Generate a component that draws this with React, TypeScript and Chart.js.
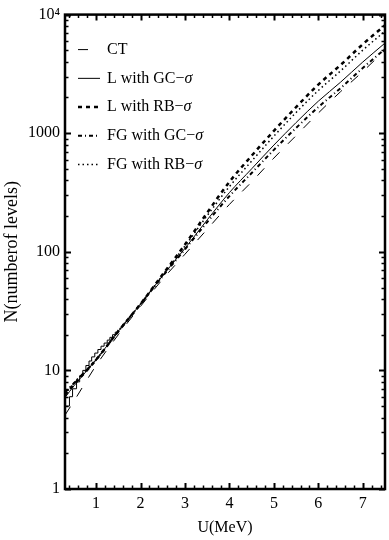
import React, { useEffect, useRef } from 'react';
import { Chart, registerables } from 'chart.js';

Chart.register(...registerables);

// Excitation energies U (MeV) at which the model curves are read
const energies = [0.3, 0.5, 1, 1.5, 2, 2.5, 3, 3.5, 4, 4.5, 5, 5.5, 6, 6.5, 7, 7.5];

// Cumulative number of levels N(U) for each model
const ctValues = [4.2, 5.5, 11.0, 20.0, 34.7, 58.9, 95.5, 155, 251, 389, 617, 955, 1479, 2239, 3311, 5012];
const lGcValues = [5.9, 7.4, 12.3, 21.4, 36.3, 63.1, 107, 186, 316, 501, 794, 1230, 1862, 2692, 3981, 5754];
const lRbValues = [6.2, 7.6, 12.3, 21.4, 36.3, 64.6, 115, 214, 389, 646, 1047, 1660, 2570, 3758, 5623, 8128];
const fgGcValues = [6.5, 7.8, 12.3, 21.4, 36.3, 62.4, 105, 178, 295, 462, 724, 1109, 1660, 2399, 3548, 5129];
const fgRbValues = [6.3, 7.8, 12.3, 21.4, 36.3, 63.8, 112, 202, 355, 582, 944, 1496, 2291, 3350, 5012, 7244];

// Experimental staircase (level energies and cumulative counts)
const expEnergies = [0.3, 0.4, 0.47, 0.56, 0.63, 0.7, 0.77, 0.84, 0.9, 0.97, 1.04, 1.11, 1.18, 1.25, 1.31, 1.37, 1.43, 1.49];
const expCounts = [5, 6, 7, 8, 9, 10, 11, 12, 13, 14, 15, 16, 17, 18, 19, 20, 21, 22];

// Axis ticks
const xTickValues = [1, 2, 3, 4, 5, 6, 7];
const yTickValues = [1, 10, 100, 1000, 10000];
const yTickLabels = ['1', '10', '100', '1000', '10\u2074'];
const seriesLabels = ['CT', 'L with GC\u2212\u03c3', 'L with RB\u2212\u03c3', 'FG with GC\u2212\u03c3', 'FG with RB\u2212\u03c3'];

const FONT = "'Liberation Serif', 'Times New Roman', serif";

const framePlugin = {
  id: 'frameTicks',
  afterDatasetsDraw(chart: any) {
    const { ctx, chartArea: a, scales } = chart;
    const x = scales.x;
    const y = scales.y;
    ctx.save();
    ctx.setLineDash([]);
    ctx.strokeStyle = '#000';
    // x ticks (minor every 0.2)
    const kStart = Math.ceil(x.min / 0.2 - 1e-9);
    const kEnd = Math.floor(x.max / 0.2 + 1e-9);
    for (let k = kStart; k <= kEnd; k++) {
      const v = k * 0.2;
      const major = Math.abs(v - Math.round(v)) < 1e-6;
      const px = Math.round(x.getPixelForValue(v)) + 0.5;
      const len = major ? 6 : 3.5;
      ctx.lineWidth = major ? 2 : 1.5;
      ctx.beginPath();
      ctx.moveTo(px, a.bottom);
      ctx.lineTo(px, a.bottom - len);
      ctx.moveTo(px, a.top);
      ctx.lineTo(px, a.top + len);
      ctx.stroke();
    }
    // y ticks
    for (let d = 0; d <= 4; d++) {
      for (let m = 1; m <= 9; m++) {
        const v = m * Math.pow(10, d);
        if (v > y.max || v < y.min) continue;
        const major = m === 1;
        const py = Math.round(y.getPixelForValue(v)) + 0.5;
        const len = major ? 6 : 3.5;
        ctx.lineWidth = major ? 2 : 1.5;
        ctx.beginPath();
        ctx.moveTo(a.left, py);
        ctx.lineTo(a.left + len, py);
        ctx.moveTo(a.right, py);
        ctx.lineTo(a.right - len, py);
        ctx.stroke();
      }
    }
    // frame
    ctx.lineWidth = 2.5;
    ctx.strokeRect(a.left, a.top, a.right - a.left, a.bottom - a.top);

    // legend
    const rowStep = 28.75;
    chart.data.datasets.forEach((ds: any) => {
      if (!ds.inLegend) return;
      const idx = ds.legendIndex;
      const ly = a.top + 35 + idx * rowStep;
      ctx.save();
      ctx.strokeStyle = '#000';
      ctx.lineWidth = ds.borderWidth;
      ctx.lineCap = ds.borderCapStyle || 'butt';
      ctx.setLineDash(ds.borderDash || []);
      ctx.beginPath();
      ctx.moveTo(a.left + 13, ly);
      ctx.lineTo(a.left + 35, ly);
      ctx.stroke();
      ctx.restore();
      const label: string = ds.label;
      const main = label.slice(0, -1);
      const sigma = label.slice(-1);
      ctx.fillStyle = '#000';
      ctx.textBaseline = 'middle';
      ctx.textAlign = 'left';
      ctx.font = `16px ${FONT}`;
      const tx = a.left + 42;
      if (sigma === '\u03c3') {
        ctx.fillText(main, tx, ly);
        const w = ctx.measureText(main).width;
        ctx.font = `italic 16px ${FONT}`;
        ctx.fillText(sigma, tx + w, ly);
      } else {
        ctx.fillText(label, tx, ly);
      }
    });
    ctx.restore();
  },
};

function toPoints(xs: number[], ys: number[]) {
  return xs.map((xv, i) => ({ x: xv, y: ys[i] }));
}

export default function App() {
  const canvasRef = useRef<HTMLCanvasElement | null>(null);

  useEffect(() => {
    document.body.style.margin = '0';
    const canvas = canvasRef.current;
    if (!canvas) return;
    const common = {
      fill: false,
      pointRadius: 0,
      borderColor: '#000',
      backgroundColor: '#000',
      cubicInterpolationMode: 'monotone' as const,
      inLegend: true,
    };
    const chart = new Chart(canvas, {
      type: 'line',
      data: {
        datasets: [
          {
            ...common,
            label: 'exp',
            data: toPoints(expEnergies, expCounts),
            borderWidth: 1,
            stepped: true,
            cubicInterpolationMode: 'default',
            inLegend: false,
          } as any,
          { ...common, label: seriesLabels[0], legendIndex: 0, data: toPoints(energies, ctValues), borderWidth: 1, borderDash: [10, 12] } as any,
          { ...common, label: seriesLabels[1], legendIndex: 1, data: toPoints(energies, lGcValues), borderWidth: 1 } as any,
          { ...common, label: seriesLabels[2], legendIndex: 2, data: toPoints(energies, lRbValues), borderWidth: 2.5, borderDash: [4, 4] } as any,
          { ...common, label: seriesLabels[3], legendIndex: 3, data: toPoints(energies, fgGcValues), borderWidth: 2, borderDash: [4, 3, 1, 3] } as any,
          { ...common, label: seriesLabels[4], legendIndex: 4, data: toPoints(energies, fgRbValues), borderWidth: 1.5, borderDash: [1.5, 3] } as any,
        ],
      },
      options: {
        animation: false,
        responsive: true,
        maintainAspectRatio: false,
        layout: { padding: { top: 11, right: 4, left: 0, bottom: 0 } },
        plugins: { legend: { display: false }, tooltip: { enabled: false } },
        elements: { line: { tension: 0 } },
        scales: {
          x: {
            type: 'linear',
            min: 0.3,
            max: 7.5,
            afterBuildTicks: (scale: any) => {
              scale.ticks = xTickValues.map((v) => ({ value: v }));
            },
            afterFit: (scale: any) => {
              scale.height = 51;
            },
            grid: { display: false, drawTicks: false },
            border: { display: false },
            ticks: {
              color: '#000',
              padding: 5,
              maxRotation: 0,
              font: { family: FONT, size: 16 },
              callback: (v: any) => String(v),
            },
            title: {
              display: true,
              text: 'U(MeV)',
              color: '#000',
              font: { family: FONT, size: 16 },
              padding: { top: 0, bottom: 3 },
            },
          },
          y: {
            type: 'logarithmic',
            min: 1,
            max: 10000,
            afterBuildTicks: (scale: any) => {
              scale.ticks = yTickValues.map((v) => ({ value: v }));
            },
            afterFit: (scale: any) => {
              scale.width = 65;
            },
            grid: { display: false, drawTicks: false },
            border: { display: false },
            ticks: {
              color: '#000',
              padding: 5,
              font: { family: FONT, size: 16 },
              callback: (v: any) => {
                const i = yTickValues.indexOf(Number(v));
                return i >= 0 ? yTickLabels[i] : '';
              },
            },
            title: {
              display: true,
              text: 'N(numberof levels)',
              color: '#000',
              font: { family: FONT, size: 18 },
              padding: { top: 1, bottom: 0 },
            },
          },
        },
      } as any,
      plugins: [framePlugin],
    });
    return () => chart.destroy();
  }, []);

  return (
    <div style={{ position: 'relative', width: '389px', height: '540px', background: '#fff' }}>
      <canvas ref={canvasRef} />
    </div>
  );
}
